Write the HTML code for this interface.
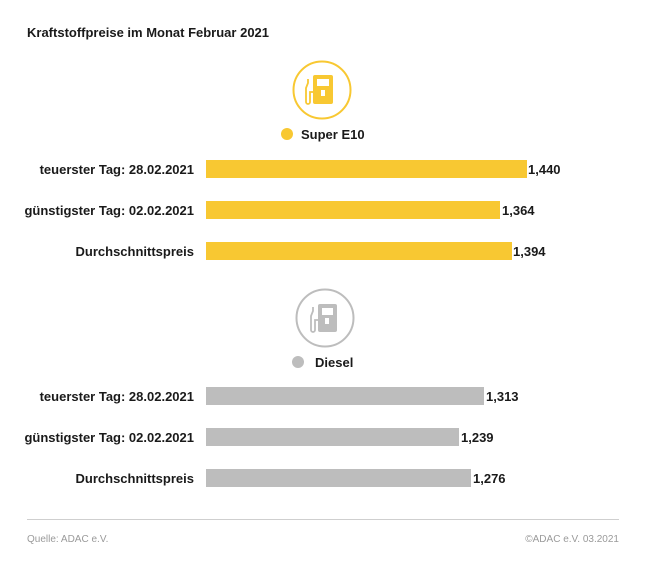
<!DOCTYPE html>
<html><head><meta charset="utf-8"><style>
html,body{margin:0;padding:0;background:#fff;}
svg{display:block;font-family:"Liberation Sans",sans-serif;}
.l{font-size:13px;font-weight:bold;fill:#1a1a1a;text-anchor:end;}
.v{font-size:13px;font-weight:bold;fill:#1a1a1a;}
</style></head><body>
<svg width="650" height="564" viewBox="0 0 650 564">
<text x="27" y="37" font-size="13" font-weight="bold" fill="#1a1a1a">Kraftstoffpreise im Monat Februar 2021</text>
<!-- E10 icon -->
<circle cx="322" cy="90" r="28.5" fill="none" stroke="#f8c832" stroke-width="2"/>
<g fill="#f8c832">
<rect x="313" y="75" width="20" height="29" rx="2"/>
</g>
<rect x="317" y="79" width="12" height="7" fill="#fff"/>
<rect x="321" y="90" width="4" height="6" fill="#fff"/>
<path d="M313 92 h-3 v10 a2 2 0 0 1 -4 0 v-14 l2 -5 v-4" fill="none" stroke="#f8c832" stroke-width="1.8"/>
<circle cx="287" cy="134" r="6" fill="#f8c832"/>
<text x="301" y="139" font-size="13" font-weight="bold" fill="#1a1a1a">Super E10</text>
<rect x="206" y="160" width="321" height="18" fill="#f8c832"/>
<rect x="206" y="201" width="294" height="18" fill="#f8c832"/>
<rect x="206" y="242" width="306" height="18" fill="#f8c832"/>
<text class="l" x="194" y="174">teuerster Tag: 28.02.2021</text>
<text class="l" x="194" y="215">günstigster Tag: 02.02.2021</text>
<text class="l" x="194" y="256">Durchschnittspreis</text>
<text class="v" x="528" y="174">1,440</text>
<text class="v" x="502" y="215">1,364</text>
<text class="v" x="513" y="256">1,394</text>
<!-- Diesel icon -->
<circle cx="325" cy="318" r="28.5" fill="none" stroke="#bdbdbd" stroke-width="2"/>
<rect x="318" y="304" width="19" height="28" rx="2" fill="#bdbdbd"/>
<rect x="322" y="308" width="11" height="7" fill="#fff"/>
<rect x="325" y="318" width="4" height="6" fill="#fff"/>
<path d="M318 320 h-3 v10 a2 2 0 0 1 -4 0 v-14 l2 -5 v-4" fill="none" stroke="#bdbdbd" stroke-width="1.8"/>
<circle cx="298" cy="362" r="6" fill="#bdbdbd"/>
<text x="315" y="367" font-size="13" font-weight="bold" fill="#1a1a1a">Diesel</text>
<rect x="206" y="387" width="278" height="18" fill="#bdbdbd"/>
<rect x="206" y="428" width="253" height="18" fill="#bdbdbd"/>
<rect x="206" y="469" width="265" height="18" fill="#bdbdbd"/>
<text class="l" x="194" y="401">teuerster Tag: 28.02.2021</text>
<text class="l" x="194" y="442">günstigster Tag: 02.02.2021</text>
<text class="l" x="194" y="483">Durchschnittspreis</text>
<text class="v" x="486" y="401">1,313</text>
<text class="v" x="461" y="442">1,239</text>
<text class="v" x="473" y="483">1,276</text>
<line x1="27" y1="519.5" x2="619" y2="519.5" stroke="#cfcfcf" stroke-width="1"/>
<text x="27" y="542" font-size="10" fill="#9a9a9a">Quelle: ADAC e.V.</text>
<text x="619" y="542" font-size="10" fill="#9a9a9a" text-anchor="end">©ADAC e.V. 03.2021</text>
</svg>
</body></html>
